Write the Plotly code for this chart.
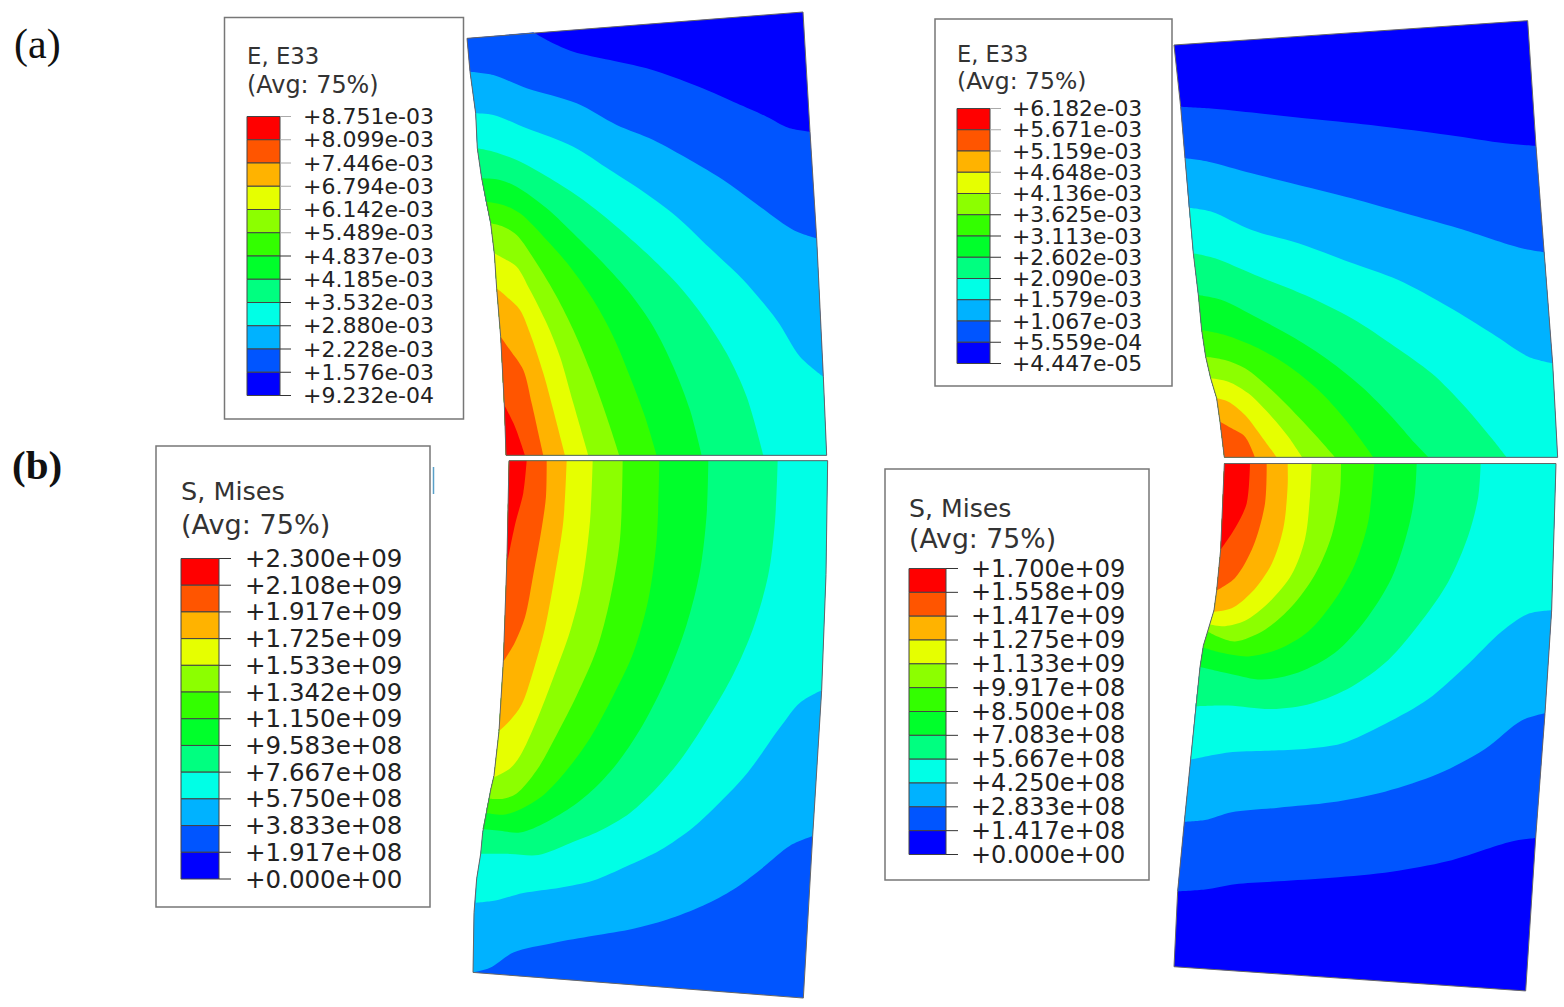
import numpy as np
import plotly.graph_objects as go

# band colours, cold to hot (same for all four contour plots)
band_colors = ['#0000ff', '#0055ff', '#00b2ff', '#00ffe6', '#00ff80', '#00ff2b',
               '#33ff00', '#8cff00', '#e6ff00', '#ffb300', '#ff5500', '#ff0000']

# legend values, top to bottom
e33_a = ['+8.751e-03', '+8.099e-03', '+7.446e-03', '+6.794e-03', '+6.142e-03', '+5.489e-03', '+4.837e-03',
         '+4.185e-03', '+3.532e-03', '+2.880e-03', '+2.228e-03', '+1.576e-03', '+9.232e-04']
e33_c = ['+6.182e-03', '+5.671e-03', '+5.159e-03', '+4.648e-03', '+4.136e-03', '+3.625e-03', '+3.113e-03',
         '+2.602e-03', '+2.090e-03', '+1.579e-03', '+1.067e-03', '+5.559e-04', '+4.447e-05']
mises_b = ['+2.300e+09', '+2.108e+09', '+1.917e+09', '+1.725e+09', '+1.533e+09', '+1.342e+09', '+1.150e+09',
           '+9.583e+08', '+7.667e+08', '+5.750e+08', '+3.833e+08', '+1.917e+08', '+0.000e+00']
mises_d = ['+1.700e+09', '+1.558e+09', '+1.417e+09', '+1.275e+09', '+1.133e+09', '+9.917e+08', '+8.500e+08',
           '+7.083e+08', '+5.667e+08', '+4.250e+08', '+2.833e+08', '+1.417e+08', '+0.000e+00']

# contour outlines, read off enlarged crops of the picture (crop units, see add_plot calls)
# edges run from the cold end of the specimen to the hot end
a_left = [(21,115),(30,215),(47,340),(52,445),(65,535),(78,605),(92,670),(103,760),(110,865),(122,1010),(133,1215),(138,1366)]
a_right = [(1029,36),(1050,395),(1070,715),(1090,1130),(1100,1366)]
a_contours = [
    [(220,97),(270,125),(340,155),(450,180),(560,205),(650,235),(740,270),(830,310),(920,350),(985,383),(1050,395)],
    [(30,215),(100,225),(200,265),(350,310),(470,375),(580,420),(690,480),(790,540),(880,605),(1000,690),(1070,715)],
    [(47,340),(100,345),(200,385),(340,440),(450,510),(550,575),(650,650),(750,745),(850,840),(950,960),(1020,1070),(1090,1130)],
    [(52,445),(100,455),(170,480),(270,535),(370,600),(470,680),(560,760),(650,850),(730,950),(800,1060),(860,1190),(910,1366)],
    [(65,535),(120,540),(170,560),(260,625),(350,710),(430,790),(510,880),(580,980),(640,1100),(690,1230),(725,1366)],
    [(78,605),(130,615),(180,640),(260,720),(330,800),(400,900),(460,1010),(510,1130),(555,1250),(590,1366)],
    [(92,670),(130,680),(170,705),(230,790),(290,890),(340,990),(390,1110),(440,1250),(478,1366)],
    [(103,760),(130,775),(170,800),(210,870),(260,970),(300,1070),(340,1210),(385,1366)],
    [(110,865),(140,890),(180,930),(210,1000),(250,1120),(285,1250),(315,1366)],
    [(122,1010),(150,1050),(190,1110),(215,1210),(235,1300),(250,1366)],
    [(133,1215),(165,1280),(195,1366)],
]

b_left = [(39,1468),(42,1300),(50,1205),(62,1135),(68,1075),(80,1010),(92,955),(102,915),(117,790),(130,595),(136,440),(141,300),(147,30)]
b_right = [(1030,1540),(1058,1085),(1085,675),(1098,350),(1103,30)]
b_contours = [
    [(39,1468),(90,1455),(160,1412),(280,1385),(400,1365),(520,1345),(620,1320),(730,1280),(820,1235),(900,1180),(990,1112),(1058,1085)],
    [(48,1272),(110,1265),(190,1245),(300,1230),(400,1210),(500,1170),(600,1125),(700,1060),(780,990),(860,910),(960,780),(1020,710),(1085,675)],
    [(63,1135),(150,1135),(235,1138),(330,1105),(420,1070),(510,1020),(590,950),(670,860),(750,745),(820,630),(880,500),(925,350),(945,200),(953,30)],
    [(68,1065),(120,1070),(180,1075),(260,1045),(340,1000),(410,945),(480,870),(550,770),(620,640),(680,490),(720,340),(740,180),(745,30)],
    [(80,1020),(130,1025),(180,1010),(250,970),(320,900),(390,810),(460,690),(520,570),(565,420),(590,250),(598,30)],
    [(90,980),(130,980),(170,965),(230,900),(290,800),(350,690),(410,560),(450,420),(480,250),(488,30)],
    [(102,920),(150,895),(180,860),(230,760),(280,640),(330,510),(365,380),(390,200),(398,30)],
    [(117,790),(150,760),(185,715),(220,620),(255,500),(285,350),(310,200),(320,30)],
    [(130,595),(165,540),(195,470),(220,350),(245,220),(258,130),(260,30)],
    [(143,310),(165,210),(190,120),(200,30)],
]

c_left = [(27,105),(47,290),(60,445),(72,593),(85,730),(100,855),(110,960),(122,1040),(137,1105),(155,1165),(165,1235),(178,1342)]
c_right = [(1088,32),(1113,408),(1138,727),(1163,1060),(1178,1342)]
c_contours = [
    [(47,290),(130,295),(280,310),(450,328),(640,348),(850,375),(1020,400),(1113,408)],
    [(60,445),(130,455),(260,490),(400,525),(560,565),(720,610),(880,655),(1070,715),(1138,727)],
    [(72,593),(140,605),(260,660),(400,700),(550,755),(700,810),(850,890),(980,970),(1090,1040),(1163,1060)],
    [(85,730),(150,745),(270,795),(420,855),(560,925),(690,1010),(800,1090),(900,1190),(980,1285),(1025,1342)],
    [(100,855),(170,870),(280,925),(390,985),(490,1050),(590,1130),(680,1220),(750,1300),(790,1342)],
    [(110,960),(180,975),(280,1015),(380,1075),(470,1150),(550,1240),(625,1342)],
    [(122,1040),(180,1050),(240,1075),(320,1140),(400,1220),(460,1285),(510,1342)],
    [(137,1105),(190,1115),(250,1150),(320,1220),(370,1280),(412,1342)],
    [(155,1165),(190,1175),(240,1215),(290,1280),(335,1342)],
    [(165,1235),(200,1255),(240,1280),(270,1342)],
]

d_left = [(27,1452),(38,1240),(58,1045),(77,870),(92,720),(105,610),(115,550),(135,490),(147,450),(155,395),(167,280),(178,38)]
d_right = [(1082,1520),(1112,1090),(1140,740),(1160,450),(1173,38)]
d_contours = [
    [(38,1240),(120,1235),(210,1220),(340,1212),(500,1202),(680,1185),(850,1155),(1040,1100),(1112,1090)],
    [(58,1045),(120,1040),(200,1018),(340,1005),(500,990),(660,960),(820,910),(960,840),(1070,760),(1140,740)],
    [(77,870),(190,850),(300,845),(420,840),(530,825),(660,770),(790,700),(900,610),(1010,510),(1090,460),(1160,450)],
    [(92,720),(190,718),(320,728),(440,712),(560,665),(670,590),(770,480),(850,370),(910,240),(940,130),(947,38)],
    [(105,610),(200,630),(290,645),(400,625),(510,570),(600,480),(680,360),(730,220),(750,120),(755,38)],
    [(115,555),(170,570),(250,580),(340,560),(430,510),(510,420),(570,320),(610,200),(628,38)],
    [(128,510),(160,525),(210,538),(300,505),(380,440),(450,350),(500,240),(525,120),(528,38)],
    [(135,490),(180,495),(240,480),(310,430),(380,350),(420,250),(435,130),(440,38)],
    [(147,455),(200,445),(260,400),(320,320),(355,220),(368,100),(368,38)],
    [(155,395),(210,360),(265,270),(300,150),(305,38)],
    [(167,280),(210,220),(245,150),(255,38)],
]

fig = go.Figure()


def sharp(points):
    # a point repeated three times stays a hard corner when the trace is drawn as a spline
    return [p for p in points for _ in range(3)]


def band_polygon(contour, left, right):
    # contour + whatever is left of the two edges on the hot side of it
    sign = 1 if left[-1][1] > left[0][1] else -1
    start_y, end_y = contour[0][1], contour[-1][1]
    right_part = [p for p in right if sign * (p[1] - end_y) > 0]
    left_part = [p for p in left if sign * (p[1] - start_y) > 0]
    return sharp(contour[:1]) + contour[1:-1] + sharp(contour[-1:] + right_part + left_part[::-1] + contour[:1])


def add_plot(left, right, contours, first_color, x0, y0, y_scale):
    def to_px(points):
        return [x0 + p[0] / 3 for p in points], [y0 + p[1] / y_scale for p in points]

    whole = list(left) + list(right)[::-1]
    xs, ys = to_px(whole)
    fig.add_trace(go.Scatter(x=xs, y=ys, mode='lines', fill='toself', fillcolor=band_colors[first_color],
                             line=dict(width=0), hoverinfo='skip', showlegend=False))
    for i, contour in enumerate(contours):
        xs, ys = to_px(band_polygon(contour, left, right))
        fig.add_trace(go.Scatter(x=xs, y=ys, mode='lines', fill='toself', fillcolor=band_colors[first_color + i + 1],
                                 line=dict(width=0, shape='spline', smoothing=0.9, simplify=False),
                                 hoverinfo='skip', showlegend=False))
    xs, ys = to_px(whole + whole[:1])
    fig.add_trace(go.Scatter(x=xs, y=ys, mode='lines', line=dict(color='#666666', width=1),
                             hoverinfo='skip', showlegend=False))


def add_legend(box, bar_x, bar_y, tick_end, label_x, label_size, labels, title, title_x, title_ys, title_sizes, n_grey):
    fig.add_shape(type='rect', x0=box[0], x1=box[2], y0=box[1], y1=box[3],
                  line=dict(color='#777777', width=1.5))
    tick_ys = np.linspace(bar_y[0], bar_y[1], len(labels))
    for i in range(len(labels) - 1):
        fig.add_shape(type='rect', x0=bar_x[0], x1=bar_x[1], y0=tick_ys[i], y1=tick_ys[i + 1],
                      fillcolor=band_colors[-1 - i], line=dict(color='#444444', width=1))
    for i, (y, label) in enumerate(zip(tick_ys, labels)):
        tick_color = '#aaaaaa' if i < n_grey else '#333333'
        fig.add_shape(type='line', x0=bar_x[1], x1=tick_end, y0=y, y1=y, line=dict(color=tick_color, width=1))
        fig.add_annotation(x=label_x, y=y, text=label, showarrow=False, xanchor='left', yanchor='middle',
                           font=dict(family='DejaVu Sans', size=label_size, color='#222222'))
    for y, line, size in zip(title_ys, title, title_sizes):
        fig.add_annotation(x=title_x, y=y, text=line, showarrow=False, xanchor='left', yanchor='middle',
                           font=dict(family='DejaVu Sans', size=size, color='#333333'))


add_plot(a_left, a_right, a_contours, 0, 460, 0, 3)
add_plot(b_left, b_right, b_contours, 1, 460, 450, 2.81)
add_plot(c_left, c_right, c_contours, 0, 1165, 10, 3)
add_plot(d_left, d_right, d_contours, 0, 1165, 450, 2.81)

# stray sliver next to the lower left legend
fig.add_shape(type='line', x0=433.5, x1=433.5, y0=467, y1=494, line=dict(color='#5aa0c8', width=1.5))

add_legend((224.5, 17.5, 463.5, 419), (247, 280), (116.5, 395.5), 291, 300.5, 22, e33_a,
           ['E, E33', '(Avg: 75%)'], 244.5, (56, 85), (22.8, 23.9), 6)
add_legend((156, 446, 430, 907), (181, 219), (558.5, 879), 231, 243, 24.5, mises_b,
           ['S, Mises', '(Avg: 75%)'], 178.5, (491, 524), (25.5, 27.1), 0)
add_legend((935, 19, 1172, 386), (957, 990), (108.5, 363.5), 1001, 1009.5, 21.9, e33_c,
           ['E, E33', '(Avg: 75%)'], 954.5, (54, 81), (22.5, 23.5), 5)
add_legend((885, 469, 1149, 880), (909, 946), (568.5, 854.5), 958, 969, 24, mises_d,
           ['S, Mises', '(Avg: 75%)'], 906.5, (508, 538), (25.2, 26.7), 0)

fig.add_annotation(x=12, y=44, text='(a)', showarrow=False, xanchor='left', yanchor='middle',
                   font=dict(family='Liberation Serif', size=42, color='#111111'))
fig.add_annotation(x=10, y=465, text='<b>(b)</b>', showarrow=False, xanchor='left', yanchor='middle',
                   font=dict(family='Liberation Serif', size=41, color='#111111'))

fig.update_layout(width=1564, height=1007, margin=dict(l=0, r=0, t=0, b=0), autosize=False,
                  paper_bgcolor='white', plot_bgcolor='white', showlegend=False,
                  xaxis=dict(range=[0, 1564], visible=False, fixedrange=True),
                  yaxis=dict(range=[1007, 0], visible=False, fixedrange=True))

fig.write_html("out.html", config=dict(displayModeBar=False),
               post_script="document.body.style.margin='0';document.body.style.overflow='hidden';")
